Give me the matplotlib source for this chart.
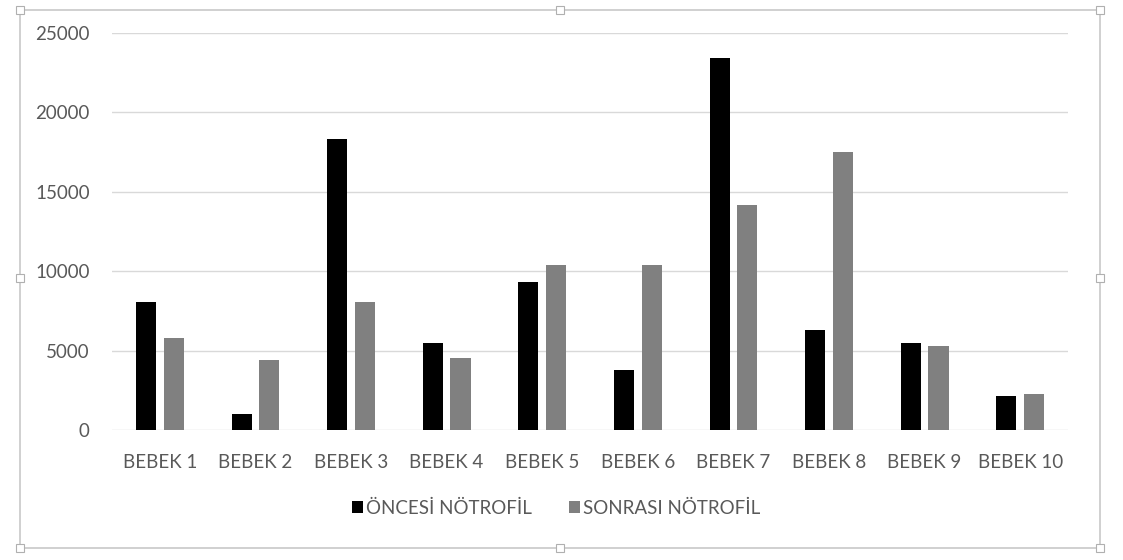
import matplotlib
matplotlib.use("Agg")
import matplotlib.pyplot as plt
from matplotlib.patches import Rectangle
import numpy as np

categories = ["BEBEK 1", "BEBEK 2", "BEBEK 3", "BEBEK 4", "BEBEK 5",
              "BEBEK 6", "BEBEK 7", "BEBEK 8", "BEBEK 9", "BEBEK 10"]
oncesi = [8050, 1000, 18300, 5450, 9300, 3800, 23400, 6300, 5450, 2150]
sonrasi = [5800, 4400, 8050, 4550, 10400, 10400, 14200, 17500, 5300, 2250]
series_names = ["ÖNCESİ NÖTROFİL", "SONRASI NÖTROFİL"]
y_ticks = [0, 5000, 10000, 15000, 20000, 25000]

plt.rcParams["font.family"] = ["Lato", "DejaVu Sans"]
text_color = "#595959"

fig = plt.figure(figsize=(11.23, 5.60), dpi=100)
fig.patch.set_facecolor("white")

# chart frame
W, H = 1123, 560
def fx(px): return px / W
def fy(py): return 1 - py / H
frame = Rectangle((fx(20), fy(548)), fx(1100) - fx(20), fy(10) - fy(548),
                  transform=fig.transFigure, fill=False, edgecolor="#c8c8c8", lw=1.2)
fig.patches.append(frame)
for (hx, hy) in [(20, 10), (560, 10), (1100, 10), (20, 278), (1100, 278),
                 (20, 548), (560, 548), (1100, 548)]:
    fig.patches.append(Rectangle((fx(hx - 4), fy(hy + 4)), fx(8), 8 / H,
                                 transform=fig.transFigure, facecolor="white",
                                 edgecolor="#b0b0b0", lw=0.8, zorder=5))

ax = fig.add_axes([fx(112), fy(430), fx(1068) - fx(112), fy(33) - fy(430)])
x = np.arange(len(categories))
w = 0.21
ax.bar(x - 0.145, oncesi, width=w, color="#000000", label=series_names[0], zorder=3)
ax.bar(x + 0.145, sonrasi, width=w, color="#808080", label=series_names[1], zorder=3)

ax.set_xlim(-0.5, len(categories) - 0.5)
ax.set_ylim(0, 25000)
ax.set_yticks(y_ticks)
ax.set_yticklabels([str(v) for v in y_ticks])
ax.set_xticks(x)
ax.set_xticklabels(categories)
ax.grid(axis="y", color="#d9d9d9", lw=1, zorder=0)
for s in ax.spines.values():
    s.set_visible(False)
ax.tick_params(axis="both", length=0, colors=text_color, labelsize=13.5)
ax.tick_params(axis="y", pad=16)
ax.tick_params(axis="x", pad=17)

leg = fig.legend(loc="center", bbox_to_anchor=(fx(556), fy(508)), ncol=2, frameon=False,
                 fontsize=13.5, handlelength=0.6, handleheight=0.6, handletextpad=0.15,
                 columnspacing=2.0, labelcolor=text_color)

fig.savefig("out.png", dpi=100, facecolor="white")
